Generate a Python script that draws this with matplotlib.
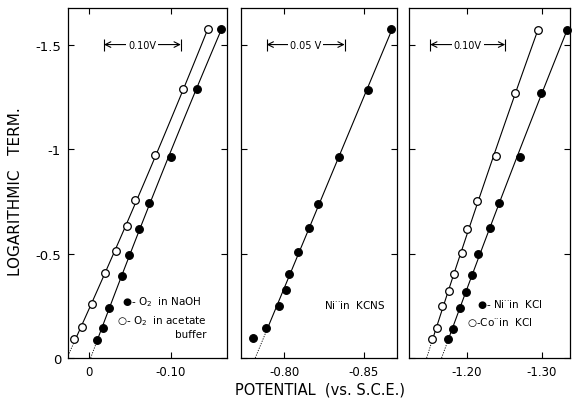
import numpy as np
import matplotlib
matplotlib.use("Agg")
import matplotlib.pyplot as plt

plt.rcParams['font.family'] = ['DejaVu Sans']

# ---------------- data ----------------
# Panel 1: O2
o2_naoh_V = [-0.0101, -0.0171, -0.0244, -0.0402, -0.0484, -0.0610, -0.0728, -0.0996, -0.1317, -0.1610]
o2_naoh_L = [-0.086, -0.144, -0.240, -0.393, -0.492, -0.618, -0.741, -0.960, -1.289, -1.576]
o2_acet_V = [0.0183, 0.0089, -0.0033, -0.0199, -0.0326, -0.0467, -0.0561, -0.0805, -0.1150, -0.1455]
o2_acet_L = [-0.091, -0.150, -0.257, -0.406, -0.514, -0.632, -0.758, -0.971, -1.285, -1.576]

# Panel 2: Ni++ in KCNS
ni_kcns_V = [-0.7806, -0.7888, -0.7964, -0.8008, -0.8030, -0.8084, -0.8154, -0.8215, -0.8346, -0.8527, -0.8674]
ni_kcns_L = [-0.094, -0.142, -0.249, -0.327, -0.404, -0.507, -0.621, -0.738, -0.960, -1.281, -1.576]

# Panel 3: Ni++ and Co++ in KCl
ni_kcl_V = [-1.1749, -1.1820, -1.1913, -1.1997, -1.2073, -1.2153, -1.2304, -1.2424, -1.2709, -1.2989, -1.3336]
ni_kcl_L = [-0.091, -0.139, -0.240, -0.315, -0.399, -0.498, -0.624, -0.743, -0.962, -1.266, -1.568]
co_kcl_V = [-1.1540, -1.1607, -1.1673, -1.1767, -1.1833, -1.1936, -1.2007, -1.2136, -1.2384, -1.2647, -1.2949]
co_kcl_L = [-0.091, -0.142, -0.248, -0.322, -0.404, -0.503, -0.618, -0.752, -0.966, -1.268, -1.572]

y_ticks = [0, -0.5, -1, -1.5]
y_ticklabels = ["0", "-0.5", "-1", "-1.5"]

p1_xticks = [0, -0.10]
p1_xticklabels = ["0", "-0.10"]
p2_xticks = [-0.80, -0.85]
p2_xticklabels = ["-0.80", "-0.85"]
p3_xticks = [-1.20, -1.30]
p3_xticklabels = ["-1.20", "-1.30"]

# ---------------- figure ----------------
W, H = 572, 402
fig = plt.figure(figsize=(W / 100, H / 100), dpi=100)
fig.patch.set_facecolor('white')


def px_axes(x0, x1, y0, y1):
    return fig.add_axes([x0 / W, 1 - y1 / H, (x1 - x0) / W, (y1 - y0) / H])


ax1 = px_axes(68, 227, 9, 359)
ax2 = px_axes(241, 397, 9, 359)
ax3 = px_axes(409, 570, 9, 359)

ylims = (0, -1.675)


def style(ax, xlim, xticks, xticklabels, ylabels):
    ax.set_xlim(*xlim)
    ax.set_ylim(*ylims)
    ax.set_xticks(xticks)
    ax.set_xticklabels(xticklabels, fontsize=8.5)
    ax.set_yticks(y_ticks)
    if ylabels:
        ax.set_yticklabels(y_ticklabels, fontsize=9.5)
    else:
        ax.set_yticklabels([])
    ax.tick_params(direction='in', top=True, right=True, length=4, width=0.8,
                   pad=5)
    for s in ax.spines.values():
        s.set_linewidth(0.9)


def draw_series(ax, V, L, filled, fit_start=0):
    V = np.asarray(V)
    L = np.asarray(L)
    c = np.polyfit(L[fit_start:], V[fit_start:], 2)
    Ls = np.linspace(L[fit_start], L[-1], 100)
    ax.plot(np.polyval(c, Ls), Ls, color='black', lw=0.8, zorder=2)
    Ld = np.linspace(0, L[fit_start], 20)
    ax.plot(np.polyval(c, Ld), Ld, color='black', lw=0.6, ls=(0, (1.5, 1.5)), zorder=2)
    ax.plot(V, L, 'o', ms=5.5, mec='black', mew=0.9,
            mfc='black' if filled else 'white', zorder=3, clip_on=False)


def scale_bar(ax, x0, x1, label):
    y = -1.5
    xm = (x0 + x1) / 2
    ax.annotate('', xy=(x0, y), xytext=(xm, y),
                arrowprops=dict(arrowstyle='->', lw=0.8, color='black', shrinkA=0, shrinkB=0))
    ax.annotate('', xy=(x1, y), xytext=(xm, y),
                arrowprops=dict(arrowstyle='->', lw=0.8, color='black', shrinkA=0, shrinkB=0))
    ax.plot([x0, x1], [y, y], '|', ms=8, mew=0.8, color='black')
    ax.text(xm, y, label, ha='center', va='center', fontsize=7,
            bbox=dict(facecolor='white', edgecolor='none', pad=1.5))


# Panel 1
style(ax1, (0.0256, -0.1683), p1_xticks, p1_xticklabels, True)
draw_series(ax1, o2_acet_V, o2_acet_L, False)
draw_series(ax1, o2_naoh_V, o2_naoh_L, True)
scale_bar(ax1, -0.0183, -0.112, '0.10V')
ax1.text(0.34, 0.162, '\u25cf- O$_2$  in NaOH', transform=ax1.transAxes, fontsize=7.5, va='center')
ax1.text(0.31, 0.108, '\u25cb- O$_2$  in acetate', transform=ax1.transAxes, fontsize=7.5, va='center')
ax1.text(0.87, 0.068, 'buffer', transform=ax1.transAxes, fontsize=7.5, va='center', ha='right')

# Panel 2
style(ax2, (-0.7728, -0.8709), p2_xticks, p2_xticklabels, False)
draw_series(ax2, ni_kcns_V, ni_kcns_L, True, fit_start=1)
scale_bar(ax2, -0.7889, -0.8380, '0.05 V')
ax2.text(0.73, 0.155, 'Ni$^{\u00b7\u00b7}$in  KCNS', transform=ax2.transAxes, fontsize=7.5, va='center', ha='center')

# Panel 3
style(ax3, (-1.1231, -1.3377), p3_xticks, p3_xticklabels, False)
draw_series(ax3, co_kcl_V, co_kcl_L, False)
draw_series(ax3, ni_kcl_V, ni_kcl_L, True)
scale_bar(ax3, -1.1513, -1.2513, '0.10V')
ax3.text(0.42, 0.155, '\u25cf- Ni$^{\u00b7\u00b7}$in  KCl', transform=ax3.transAxes, fontsize=7.5, va='center')
ax3.text(0.36, 0.103, '\u25cb-Co$^{\u00b7\u00b7}$in  KCl', transform=ax3.transAxes, fontsize=7.5, va='center')

fig.text(320 / W, 1 - 390 / H, 'POTENTIAL  (vs. S.C.E.)', ha='center', va='center', fontsize=10.5)
fig.text(16 / W, 1 - 192 / H, 'LOGARITHMIC   TERM.', ha='center', va='center', rotation=90, fontsize=11)

fig.savefig('out.png', dpi=100, facecolor='white')
